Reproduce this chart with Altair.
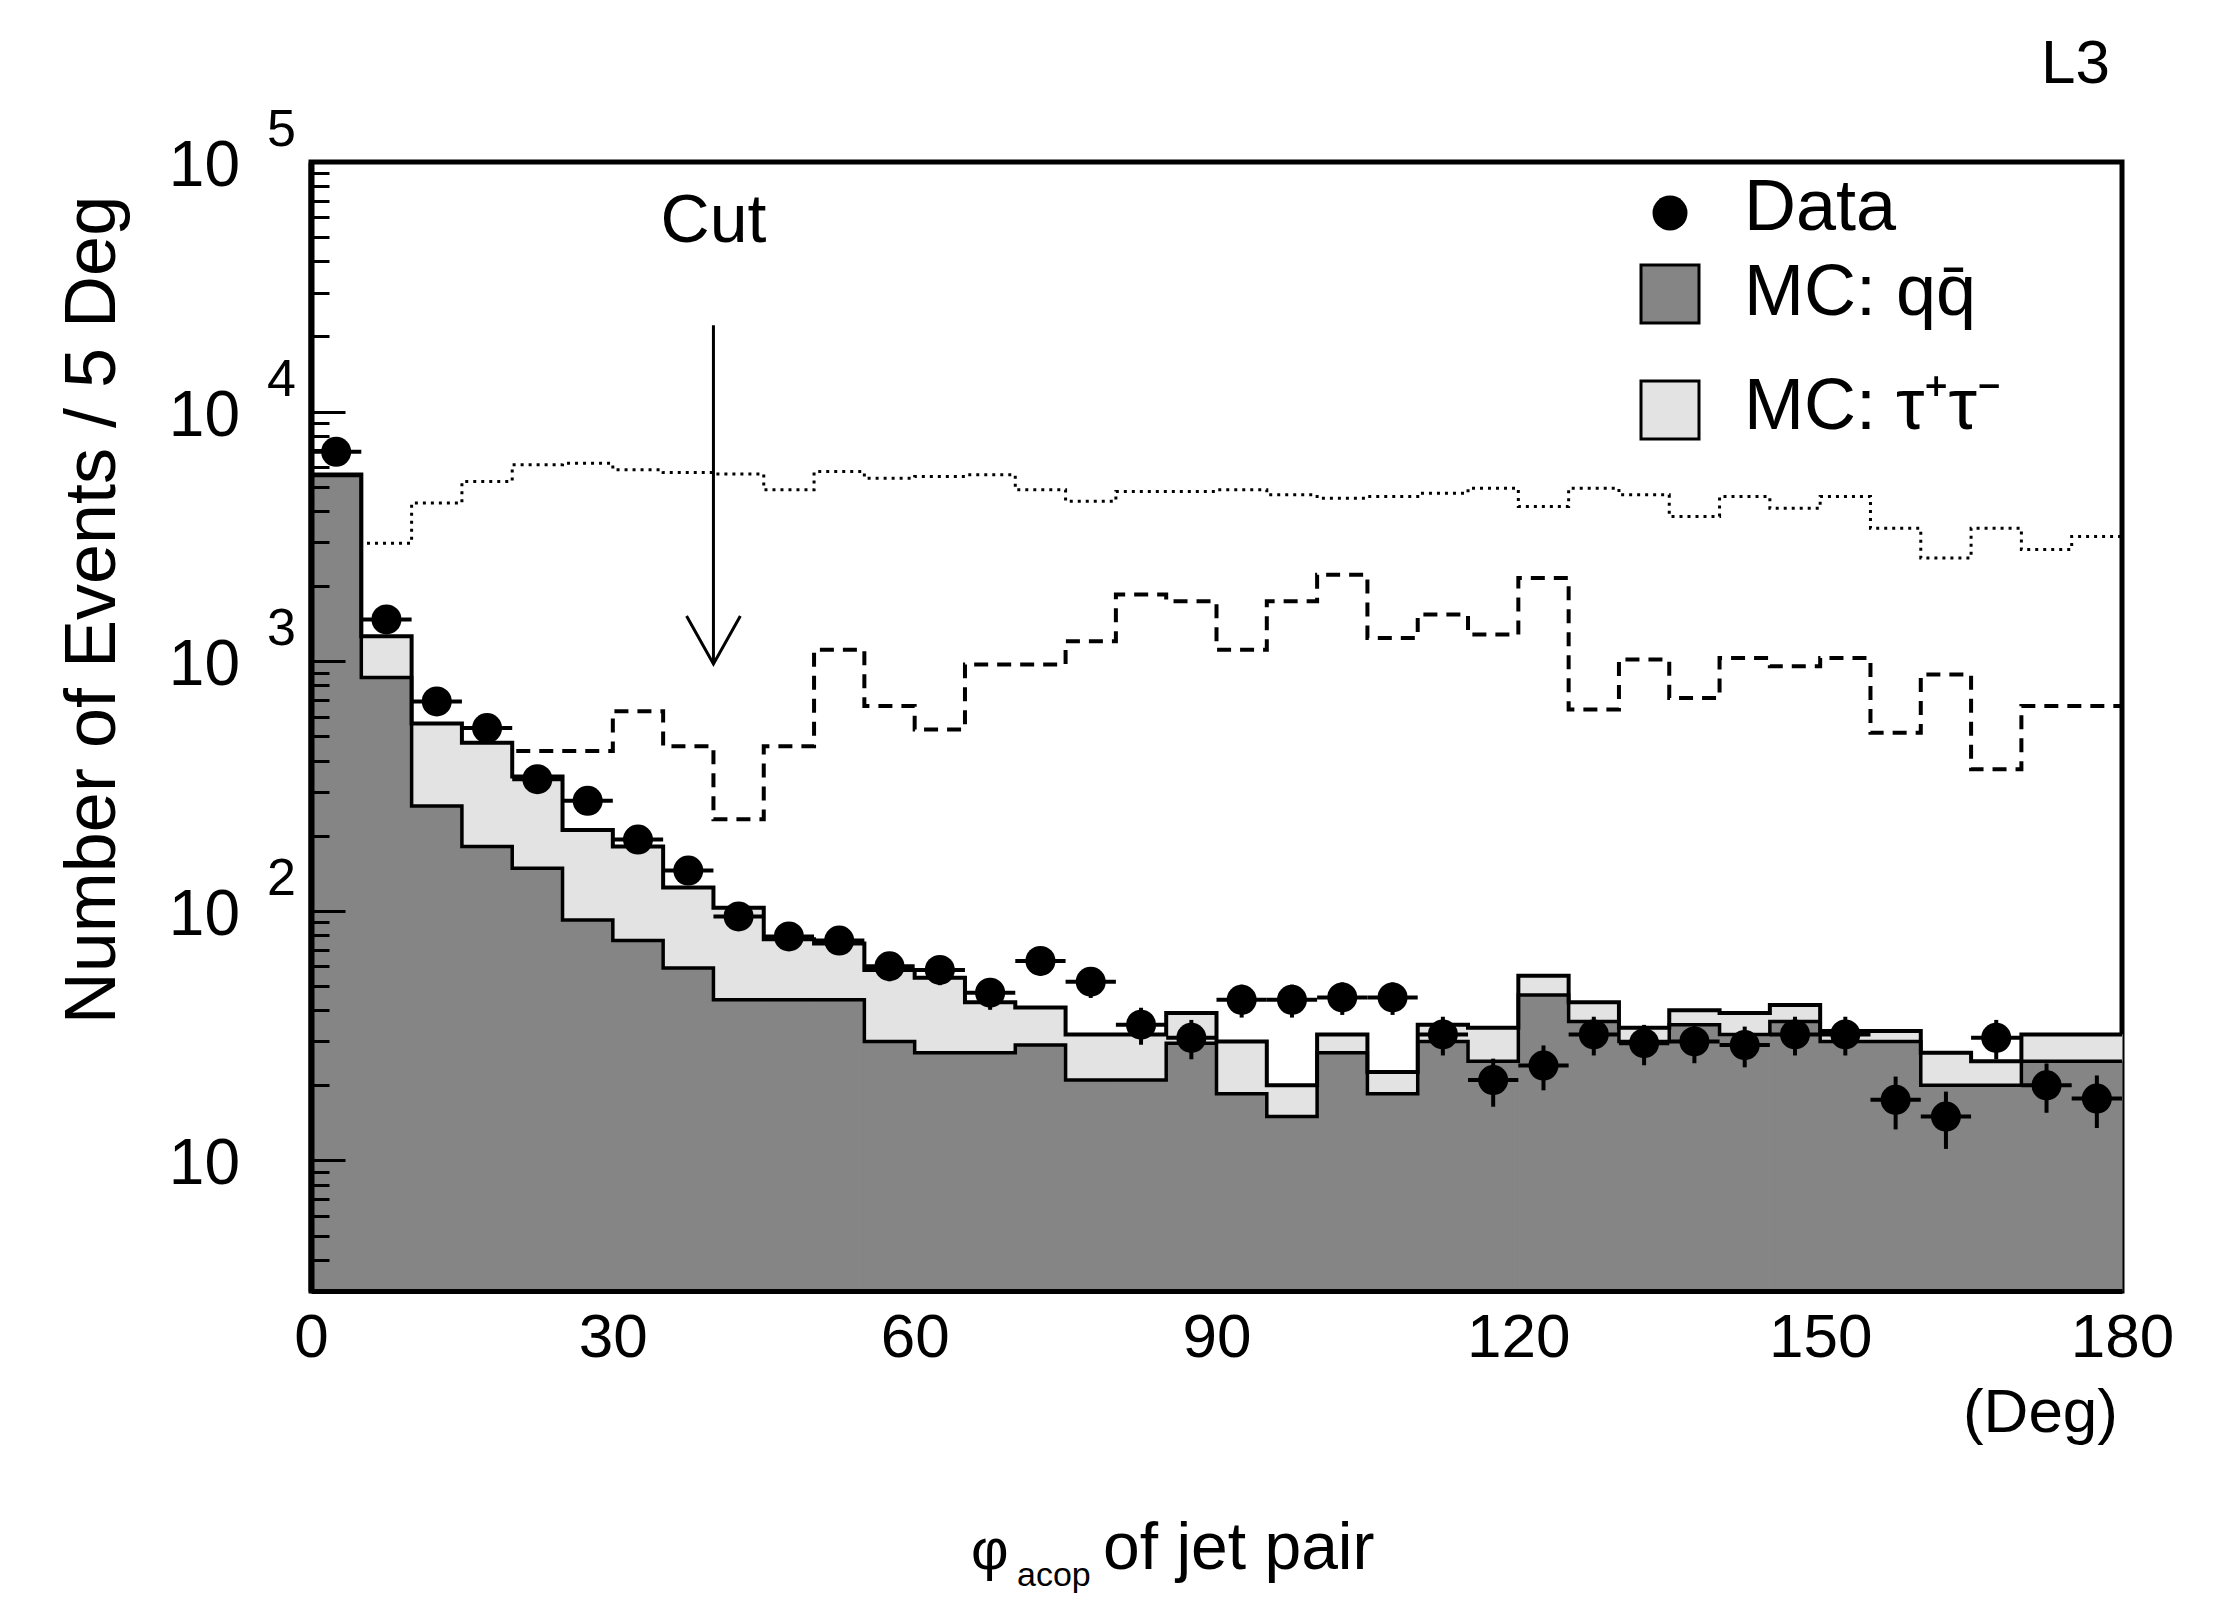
import altair as alt
import pandas as pd

# ---------------- data ----------------
BIN_WIDTH = 5
bin_low = list(range(0, 180, BIN_WIDTH))

data_counts = [6900, 1470, 690, 540, 337, 276, 193, 145, 95, 79,
               76, 60, 58, 47, 63, 52, 35, 31, 44, 44,
               45, 45, 32, 21, 24, 32, 29.5, 30, 29, 32,
               32, 17.5, 15, 31, 20, 17.7]
mc_qq = [5550, 861, 263, 181, 148, 92, 76, 59, 44, 44,
         44, 30, 27, 27, 29, 21, 21, 29.5, 18.5, 15,
         27, 18.5, 30, 25, 46, 36, 30, 35, 32, 36,
         30, 30, 20, 20, 25, 25]
mc_tautau = [50, 398, 300, 291, 197, 119, 105, 65, 59, 33,
             30, 28, 27, 16, 12, 11, 11, 9.5, 11.5, 5,
             5, 4.1, 5, 9, 9, 7, 4, 5, 7, 6,
             3, 3, 7, 5, 7, 7]
signal_dotted = [2970, 2970, 4300, 5250, 6120, 6210, 5850, 5700, 5630, 4860,
                 5750, 5410, 5500, 5580, 4860, 4370, 4790, 4790, 4860, 4640,
                 4500, 4570, 4710, 4930, 4170, 4930, 4640, 3800, 4570, 4100,
                 4570, 3410, 2590, 3410, 2800, 3160]
signal_dashed = [430, 430, 430, 430, 437, 437, 631, 457, 233, 457,
                 1113, 661, 533, 970, 970, 1202, 1850, 1740, 1113, 1740,
                 2222, 1239, 1538, 1279, 2155, 641, 1016, 713, 1031, 955,
                 1031, 517, 885, 369, 661, 661]

x_tick_values = [0, 30, 60, 90, 120, 150, 180]
y_decades = [10, 100, 1000, 10000, 100000]
y_decade_exponents = ["", "2", "3", "4", "5"]
legend_labels = ["Data", "MC: qq\u0304", "MC: \u03c4\u207a\u03c4\u207b"]
cut_angle = [40]
cut_arrow_top = [22200]
cut_arrow_tip = [975]
cut_label_y = [57500]

# ---------------- styling ----------------
Y_MIN, Y_MAX = 3, 100000
W, H = 1811, 1129
FONT = "Liberation Sans"
QQ_FILL = "#858585"
TAU_FILL = "#e3e3e3"

hist = pd.DataFrame({
    "lo": bin_low,
    "hi": [b + BIN_WIDTH for b in bin_low],
    "mid": [b + BIN_WIDTH / 2 for b in bin_low],
    "data": data_counts,
    "qq": mc_qq,
    "tau": mc_tautau,
})
hist["total"] = hist["qq"] + hist["tau"]
hist["err_lo"] = hist["data"] - hist["data"] ** 0.5
hist["err_hi"] = hist["data"] + hist["data"] ** 0.5


def steps(values):
    return pd.DataFrame({"x": bin_low + [180], "v": list(values) + [values[-1]]})


xs = alt.Scale(domain=[0, 180], nice=False, zero=False)
ys = alt.Scale(type="log", domain=[Y_MIN, Y_MAX], nice=False)


def X(f):
    return alt.X(f, type="quantitative", scale=xs, axis=None)


def Y(f):
    return alt.Y(f, type="quantitative", scale=ys, axis=None)


minor_vals = sorted({m * d for d in [1, 10, 100, 1000, 10000] for m in range(1, 10)
                     if Y_MIN <= m * d <= Y_MAX} | {Y_MAX})
major_test = " || ".join(f"datum.value == {v}" for v in y_decades)

x_axis = alt.Axis(values=x_tick_values, labelFontSize=62, labelFont=FONT,
                  labelColor="black", ticks=False, tickSize=0, labelPadding=16,
                  domainColor="black", domainWidth=5, grid=False, title=None,
                  zindex=1, labelFlush=False)
y_axis = alt.Axis(orient="right", offset=-W, values=minor_vals, labels=False,
                  ticks=True, tickColor="black", tickWidth=3,
                  tickSize={"condition": {"test": major_test, "value": 34}, "value": 18},
                  domainColor="black", domainWidth=6, grid=False, title=None, zindex=1)

layers = []

# signal MC step lines (drawn underneath the background histograms)
layers.append(alt.Chart(steps(signal_dashed)).mark_line(
    interpolate="step-after", color="black", strokeWidth=4, strokeDash=[14, 9]
).encode(x=X("x"), y=Y("v")))
layers.append(alt.Chart(steps(signal_dotted)).mark_line(
    interpolate="step-after", color="black", strokeWidth=3, strokeDash=[3, 5]
).encode(x=X("x"), y=Y("v")))

# background histograms (this layer carries the axes)
layers.append(alt.Chart(hist).mark_rect(fill=QQ_FILL, stroke=QQ_FILL, strokeWidth=1).encode(
    x=alt.X("lo", type="quantitative", scale=xs, axis=x_axis), x2="hi",
    y=alt.Y("qq", type="quantitative", scale=ys, axis=y_axis), y2=alt.datum(Y_MIN)))
layers.append(alt.Chart(hist).mark_rect(fill=TAU_FILL, stroke=TAU_FILL, strokeWidth=1).encode(
    x=X("lo"), x2="hi", y=Y("qq"), y2="total"))
layers.append(alt.Chart(steps(list(hist["qq"]))).mark_line(
    interpolate="step-after", color="black", strokeWidth=3.5).encode(x=X("x"), y=Y("v")))
layers.append(alt.Chart(steps(list(hist["total"]))).mark_line(
    interpolate="step-after", color="black", strokeWidth=4).encode(x=X("x"), y=Y("v")))

# data points with error bars
layers.append(alt.Chart(hist).mark_rule(color="black", strokeWidth=4).encode(
    x=X("lo"), x2="hi", y=Y("data")))
layers.append(alt.Chart(hist).mark_rule(color="black", strokeWidth=4).encode(
    x=X("mid"), y=Y("err_lo"), y2="err_hi"))
layers.append(alt.Chart(hist).mark_point(filled=True, shape="circle", size=900,
                                         color="black", opacity=1).encode(
    x=X("mid"), y=Y("data")))

# cut arrow
cut_df = pd.DataFrame({"x": cut_angle, "top": cut_arrow_top, "tip": cut_arrow_tip,
                       "ly": cut_label_y, "t": ["Cut"]})
layers.append(alt.Chart(cut_df).mark_rule(color="black", strokeWidth=3).encode(
    x=X("x"), y=Y("top"), y2="tip"))
layers.append(alt.Chart(cut_df).mark_point(
    shape="M-0.56,-1L0,0L0.56,-1", size=9216, filled=False, color="black",
    strokeWidth=3, opacity=1).encode(x=X("x"), y=Y("tip")))
layers.append(alt.Chart(cut_df).mark_text(font=FONT, fontSize=68, color="black",
                                          align="center", baseline="middle").encode(
    x=X("x"), y=Y("ly"), text="t:N"))

# y tick labels (10 with exponent)
ylab = pd.DataFrame({"v": y_decades, "base": ["10"] * len(y_decades),
                     "exp": y_decade_exponents})
layers.append(alt.Chart(ylab).mark_text(font=FONT, fontSize=64, color="black",
                                        align="right", baseline="middle", dy=5).encode(
    x=alt.value(-71), y=Y("v"), text="base:N"))
layers.append(alt.Chart(ylab).mark_text(font=FONT, fontSize=52, color="black",
                                        align="left", baseline="middle", dy=-32).encode(
    x=alt.value(-44), y=Y("v"), text="exp:N"))


def label(text, x, y, size, align="left", angle=0):
    return alt.Chart(pd.DataFrame({"t": [text]})).mark_text(
        font=FONT, fontSize=size, color="black", align=align, baseline="middle",
        angle=angle).encode(x=alt.value(x), y=alt.value(y), text="t:N")


layers.append(label("Number of Events / 5 Deg", -218, 448, 72, "center", 270))
layers.append(label("(Deg)", 1807, 1251, 62, "right"))
layers.append(label("\u03c6", 660, 1390, 58, "left"))
layers.append(label("acop", 706, 1414, 34, "left"))
layers.append(label("of jet pair", 792, 1387, 66, "left"))
layers.append(label("L3", 1799, -98, 62, "right"))

# legend
LEG_DY = 32
leg = pd.DataFrame({"t": legend_labels})
layers.append(alt.Chart(leg.iloc[[0]]).mark_point(filled=True, shape="circle", size=1225,
                                                  color="black", opacity=1).encode(
    x=alt.value(1359), y=alt.value(19 + LEG_DY)))
layers.append(alt.Chart(leg.iloc[[1]]).mark_square(size=3364, fill=QQ_FILL, stroke="black",
                                                   strokeWidth=3, opacity=1).encode(
    x=alt.value(1359), y=alt.value(100 + LEG_DY)))
layers.append(alt.Chart(leg.iloc[[2]]).mark_square(size=3364, fill=TAU_FILL, stroke="black",
                                                   strokeWidth=3, opacity=1).encode(
    x=alt.value(1359), y=alt.value(216 + LEG_DY)))
for i, yy in zip(range(3), [14, 99, 213]):
    layers.append(alt.Chart(leg.iloc[[i]]).mark_text(
        font=FONT, fontSize=72, color="black", align="left", baseline="middle").encode(
        x=alt.value(1433), y=alt.value(yy + LEG_DY), text="t:N"))

chart = alt.layer(*layers).resolve_axis(x="independent", y="independent").properties(
    width=W, height=H,
    autosize=alt.AutoSizeParams(type="none"),
    padding={"left": 303, "top": 154, "right": 108, "bottom": 312},
    background="white",
).configure_view(stroke="black", strokeWidth=5)

chart.save("out.html", embed_options={"renderer": "svg", "actions": False})
